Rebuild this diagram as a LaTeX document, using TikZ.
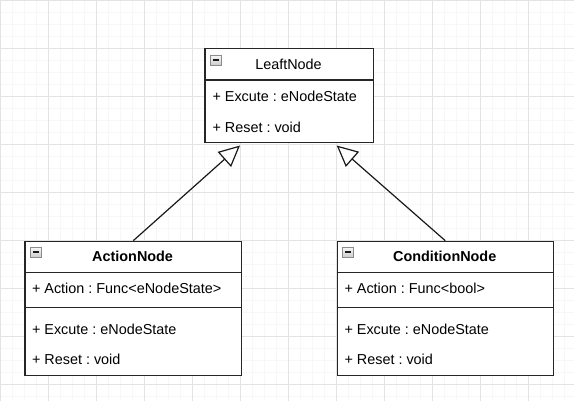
\documentclass[tikz,border=0pt]{standalone}
\usepackage{fontspec}
\setmainfont{Liberation Sans}
\usetikzlibrary{arrows.meta}
\frenchspacing

\tikzset{
  umlbox/.style={draw=black!85, fill=white, line width=1.2pt, anchor=north west, inner sep=0pt},
  umltitle/.style={anchor=base, inner sep=0pt, font=\fontsize{14.4pt}{17pt}\selectfont},
  umlrow/.style={anchor=base west, inner sep=0pt, font=\fontsize{14.4pt}{17pt}\selectfont},
  umlsep/.style={draw=black!85, line width=1.2pt},
  inherit/.style={draw=black!90, line width=1.2pt, -{Triangle[fill=white,length=21pt,width=20pt]}},
  collapse/.pic={
    \draw[draw=black!45, top color=gray!5, bottom color=gray!40, line width=0.8pt] (0,0) rectangle (11,10);
    \draw[black!90, line width=1.4pt] (2.5,5) -- (8.5,5);
  }
}

\begin{document}
\begin{tikzpicture}[x=1pt,y=-1pt]

\def\GRIDMINOR{black!3}
\def\GRIDMAJOR{black!11}
	\useasboundingbox (0,0) rectangle (574,401);
	\fill[white] (0,0) rectangle (574,401);
	\draw[step=12pt,\GRIDMINOR,line width=0.8pt] (0,0) grid (574,401);
	\draw[step=48pt,\GRIDMAJOR,line width=0.8pt] (0,0) grid (574,401);

	% LeaftNode
	\node[umlbox, minimum width=168.4pt, minimum height=93.4pt] (leaft) at (204.3,48.3) {};
	\draw[umlsep] (leaft.west |- 0,80) -- (leaft.east |- 0,80);
	\pic at (210.3,55) {collapse};
	\node[umltitle] (leaftTitle) at (288.5,69.3) {LeaftNode};
	\node[umlrow] (leaftExcute) at (212.3,101.7) {+ Excute : eNodeState};
	\node[umlrow] (leaftReset) at (212.3,132.7) {+ Reset : void};

	% ActionNode
	\node[umlbox, minimum width=216.7pt, minimum height=134.3pt] (action) at (24.3,240.7) {};
	\draw[umlsep] (action.west |- 0,272.3) -- (action.east |- 0,272.3);
	\draw[umlsep] (action.west |- 0,307.7) -- (action.east |- 0,307.7);
	\pic at (30.3,247) {collapse};
	\node[umltitle] (actionTitle) at (132.6,261.7) {\bfseries ActionNode};
	\node[umlrow] (actionFunc) at (31.8,293.3) {+ Action : Func<eNodeState>};
	\node[umlrow] (actionExcute) at (31.8,334.3) {+ Excute : eNodeState};
	\node[umlrow] (actionReset) at (31.8,365) {+ Reset : void};

	% ConditionNode
	\node[umlbox, minimum width=216pt, minimum height=134.3pt] (cond) at (336.7,240.7) {};
	\draw[umlsep] (cond.west |- 0,272.3) -- (cond.east |- 0,272.3);
	\draw[umlsep] (cond.west |- 0,307.7) -- (cond.east |- 0,307.7);
	\pic at (342.7,247) {collapse};
	\node[umltitle] (condTitle) at (444.7,261.7) {\bfseries ConditionNode};
	\node[umlrow] (condFunc) at (344.3,293.3) {+ Action : Func<bool>};
	\node[umlrow] (condExcute) at (344.3,334.3) {+ Excute : eNodeState};
	\node[umlrow] (condReset) at (344.3,365) {+ Reset : void};

	% inheritance
	\coordinate (leaftL) at (240,145.5);
	\coordinate (leaftR) at (336.7,145.5);
	\draw[inherit] (action.north) -- (leaftL);
	\draw[inherit] (cond.north) -- (leaftR);

\end{tikzpicture}
\end{document}
